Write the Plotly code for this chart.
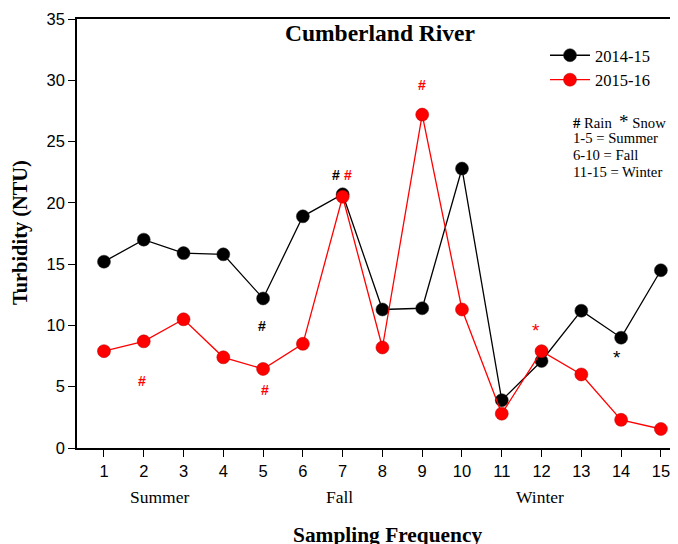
import plotly.graph_objects as go

sampling = list(range(1, 16))
turb_2014_15 = [15.2, 17.0, 15.9, 15.8, 12.2, 18.9, 20.7, 11.3, 11.4, 22.8, 3.9, 7.1, 11.2, 9.0, 14.5]
turb_2015_16 = [7.9, 8.7, 10.5, 7.4, 6.45, 8.5, 20.5, 8.2, 27.2, 11.3, 2.8, 7.9, 6.0, 2.3, 1.55]

# event markers: (x, y, symbol, color)
event_x = [6.83, 7.13, 9.0, 1.95, 5.05, 4.97, 11.85, 13.9]
event_y = [22.3, 22.3, 29.6, 5.5, 4.7, 9.95, 9.6, 7.4]
event_sym = ["#", "#", "#", "#", "#", "#", "*", "*"]
event_col = ["black", "red", "red", "red", "red", "black", "red", "black"]

season_names = ["Summer", "Fall", "Winter"]
season_x = [2.4, 6.93, 11.95]

note_lines = ["<b>#</b> Rain  <span style='font-size:19px'>*</span> Snow",
              "1-5 = Summer", "6-10 = Fall", "11-15 = Winter"]

serif = "Liberation Serif"
sans = "Liberation Sans"

# page body has an 8px margin; plot area in window pixels: x 77..678, y 19..448
OFF = 8
H = 429.0
W = 601.0


def px(x):
    return (x - 77) / W


def py(y):
    return (448 - y) / H


fig = go.Figure()
fig.add_trace(go.Scatter(
    x=sampling, y=turb_2014_15, mode="lines+markers", name="2014-15",
    line=dict(color="black", width=1.3),
    marker=dict(color="black", size=13, line=dict(color="#222", width=0.5)),
))
fig.add_trace(go.Scatter(
    x=sampling, y=turb_2015_16, mode="lines+markers", name="2015-16",
    line=dict(color="red", width=1.3),
    marker=dict(color="red", size=13, line=dict(color="#b00000", width=0.5)),
))

annotations = []
for x, y, s, c in zip(event_x, event_y, event_sym, event_col):
    annotations.append(dict(
        x=x, y=y, xref="x", yref="y", text=f"<b>{s}</b>" if s == "#" else s,
        xanchor="center", yanchor="middle",
        showarrow=False, font=dict(family=sans, size=14 if s == "#" else 19, color=c),
    ))
for name, x in zip(season_names, season_x):
    annotations.append(dict(
        x=x, y=py(497), xref="x", yref="paper", text=name, showarrow=False,
        xanchor="center", yanchor="middle",
        font=dict(family=serif, size=17.5, color="black"),
    ))
for i, line in enumerate(note_lines):
    annotations.append(dict(
        x=px(571), y=py(121 + 16.9 * i), xref="paper", yref="paper",
        xanchor="left", yanchor="middle", text=line, showarrow=False,
        font=dict(family=serif, size=14.7, color="black"),
    ))
annotations += [
    dict(x=px(380), y=py(33), xref="paper", yref="paper",
         xanchor="center", yanchor="middle",
         text="<b>Cumberland River</b>", showarrow=False,
         font=dict(family=serif, size=23.5, color="black")),
    dict(x=px(387), y=py(535), xref="paper", yref="paper",
         xanchor="center", yanchor="middle",
         text="<b>Sampling Frequency</b>", showarrow=False,
         font=dict(family=serif, size=21.4, color="black")),
    dict(x=px(20), y=py(233), xref="paper", yref="paper",
         xanchor="center", yanchor="middle",
         text="<b>Turbidity (NTU)</b>", showarrow=False, textangle=-90,
         font=dict(family=serif, size=20.4, color="black")),
]

fig.update_layout(
    width=678, height=544,
    margin=dict(l=77 - OFF, r=OFF, t=19 - OFF, b=544 - (448 - OFF)),
    paper_bgcolor="white", plot_bgcolor="white",
    font=dict(family=serif, color="black"),
    showlegend=True,
    legend=dict(x=px(545), y=py(38), xanchor="left", yanchor="top",
                font=dict(family=serif, size=16.5, color="black"),
                bgcolor="rgba(0,0,0,0)", tracegroupgap=0, itemwidth=40),
    annotations=annotations,
    xaxis=dict(range=[0.322, 15.43], tickmode="array", tickvals=sampling,
               automargin=False,
               showgrid=False, zeroline=False, showline=True, linecolor="black",
               linewidth=1.5, mirror=True, ticks="outside", ticklen=7,
               tickcolor="black", tickwidth=1.2,
               tickfont=dict(family=sans, size=16.5, color="black")),
    yaxis=dict(range=[0, 35], tickmode="array", tickvals=[0, 5, 10, 15, 20, 25, 30, 35],
               automargin=False,
               showgrid=False, zeroline=False, showline=True, linecolor="black",
               linewidth=1.5, ticks="outside", ticklen=7, tickcolor="black",
               tickwidth=1.2, tickfont=dict(family=sans, size=16.5, color="black")),
)

fig.write_html("out.html")
